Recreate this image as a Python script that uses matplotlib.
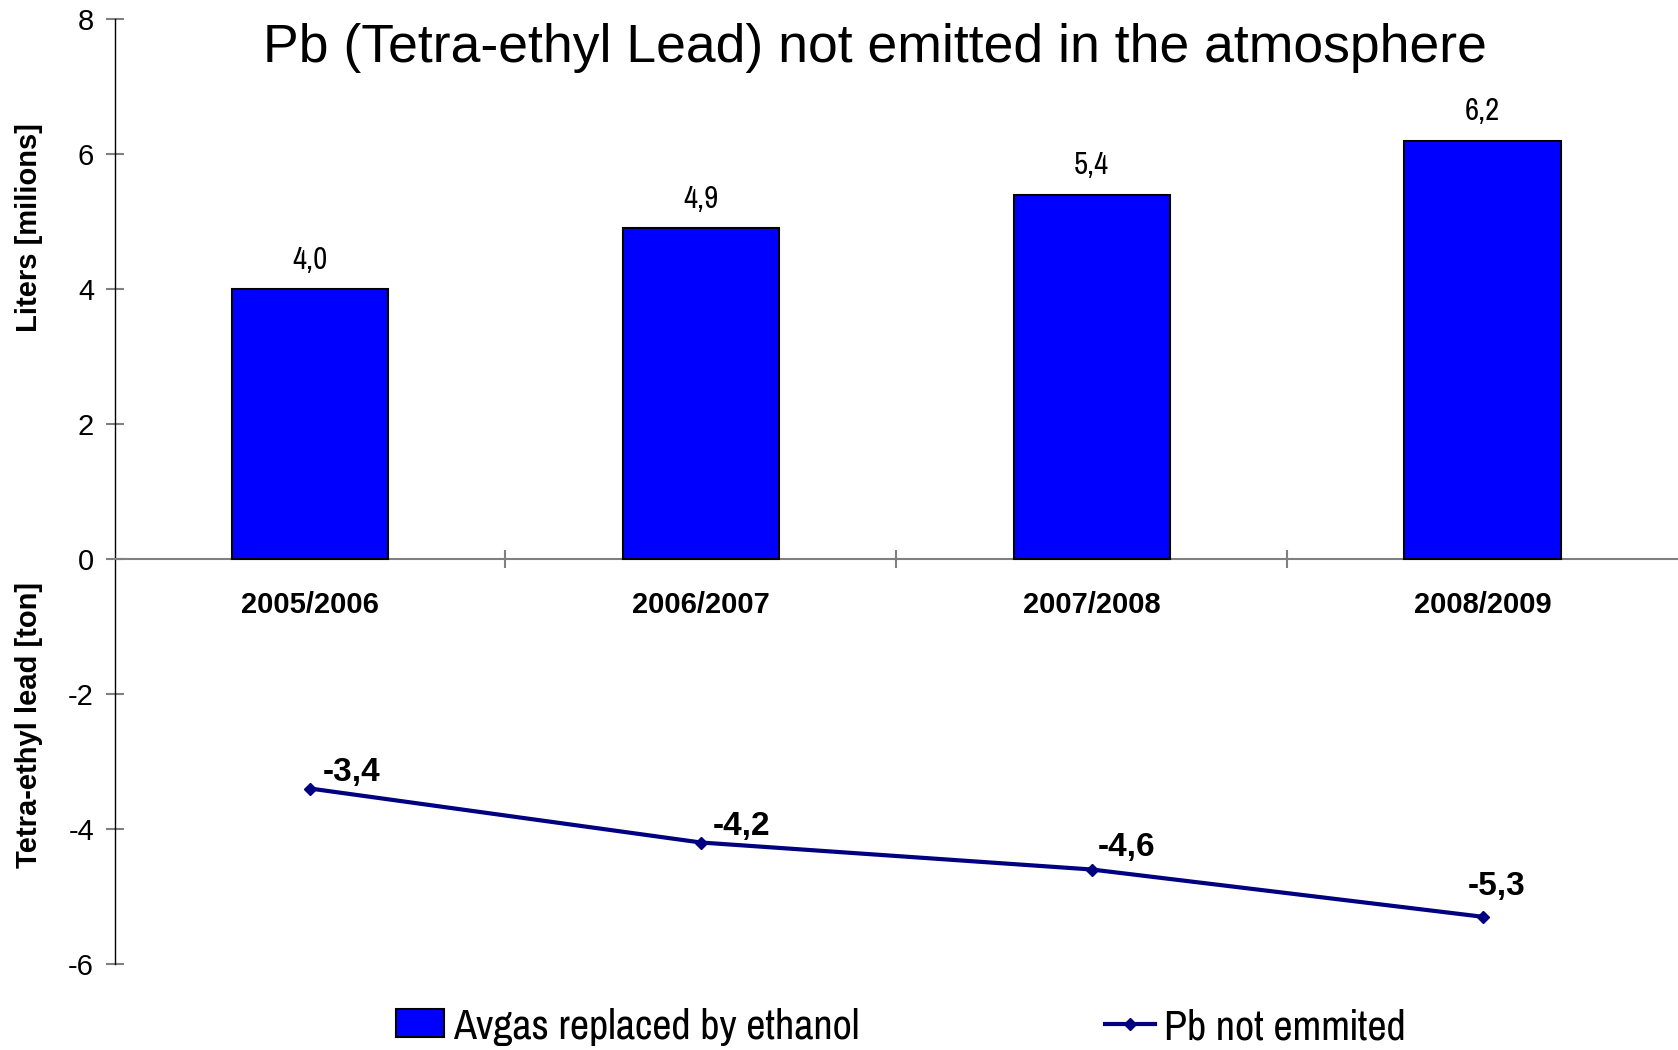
import matplotlib.pyplot as plt
from matplotlib.lines import Line2D
from matplotlib.patches import Patch

plt.rcParams['font.family'] = ['Liberation Sans', 'DejaVu Sans']
plt.rcParams['axes.unicode_minus'] = False

seasons = ['2005/2006', '2006/2007', '2007/2008', '2008/2009']
avgas_liters = [4.0, 4.9, 5.4, 6.2]          # millions of liters
pb_not_emitted = [-3.4, -4.2, -4.6, -5.3]   # tons
y_ticks = [-6, -4, -2, 0, 2, 4, 6, 8]

narrow = ['Pragati Narrow', 'PT Sans Narrow', 'Liberation Sans', 'DejaVu Sans']
gray = '#808080'
W, H = 1678, 1050

fig = plt.figure(figsize=(W / 100, H / 100), dpi=100)
ax = fig.add_axes([114.5 / W, 1 - 964 / H, (W - 114.5) / W, (964 - 19) / H])

x = list(range(len(seasons)))
ax.bar(x, avgas_liters, width=0.4, color='#0000FF', edgecolor='black', linewidth=1.5, zorder=3)
ax.plot(x, pb_not_emitted, color='#000080', lw=3, marker='D', ms=6, zorder=4)

# bar value labels
for xi, v in zip(x, avgas_liters):
    ax.annotate(f'{v:.1f}'.replace('.', ','), (xi, v), xytext=(0, 29), textcoords='offset pixels',
                ha='center', va='center', fontsize=24, family=narrow)

# line value labels (positioned like the excel labels)
label_offsets = [(42, 16), (41, 16), (35, 22), (14, 30)]
for xi, v, (dx, dy) in zip(x, pb_not_emitted, label_offsets):
    ax.annotate(f'{v:.1f}'.replace('.', ','), (xi, v), xytext=(dx, dy), textcoords='offset pixels',
                ha='center', va='center', fontsize=24, fontweight='bold')

ax.set_xlim(-0.5, 3.5)
ax.set_ylim(-6, 8)
ax.set_yticks(y_ticks)
ax.set_yticklabels([str(t) for t in y_ticks], fontsize=21)
ax.tick_params(axis='y', direction='inout', length=13.5, width=1.5, color=gray, pad=8)

ax.spines['top'].set_visible(False)
ax.spines['right'].set_visible(False)
ax.spines['left'].set_color('black')
ax.spines['left'].set_linewidth(1)
ax.spines['bottom'].set_position(('data', 0))
ax.spines['bottom'].set_color(gray)
ax.spines['bottom'].set_linewidth(1.5)

ax.set_xticks(x)
ax.set_xticklabels(seasons, fontsize=21, fontweight='bold')
ax.set_xticks([0.5, 1.5, 2.5], minor=True)
ax.tick_params(axis='x', which='major', length=0, pad=23)
ax.tick_params(axis='x', which='minor', direction='inout', length=13.5, width=1.5, color=gray)

fig.text(875 / W, 1 - 48 / H, 'Pb (Tetra-ethyl Lead) not emitted in the atmosphere',
         ha='center', va='center', fontsize=38.5)
fig.text(29 / W, 1 - 228 / H, 'Liters [milions]', rotation=90, ha='center', va='center',
         fontsize=21, fontweight='bold')
fig.text(29 / W, 1 - 725 / H, 'Tetra-ethyl lead [ton]', rotation=90, ha='center', va='center',
         fontsize=21, fontweight='bold')

leg_fs = 33
em = leg_fs * 100 / 72
h1 = Patch(facecolor='#0000FF', edgecolor='black', linewidth=1.5)
h2 = Line2D([], [], color='#000080', lw=3, marker='D', ms=6)
common = dict(frameon=False, loc='center left', borderpad=0, borderaxespad=0,
              handletextpad=0.2, prop={'family': narrow, 'size': leg_fs})
fig.legend([h1], ['Avgas replaced by ethanol'], bbox_to_anchor=(396 / W, 1 - 1027 / H),
           handlelength=48 / em, handleheight=26 / em, **common)
fig.legend([h2], ['Pb not emmited'], bbox_to_anchor=(1105 / W, 1 - 1027 / H),
           handlelength=50 / em, **common)

fig.savefig('out.png', dpi=100)
